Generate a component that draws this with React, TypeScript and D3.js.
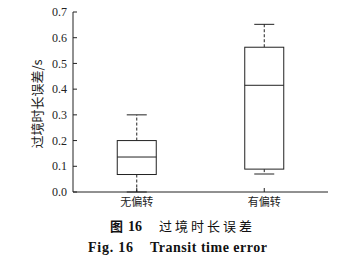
import React from "react";
import * as d3 from "d3";

const categories = ["无偏转", "有偏转"];
const whiskerLow = [0.0, 0.07];
const q1 = [0.068, 0.089];
const median = [0.136, 0.415];
const q3 = [0.2, 0.563];
const whiskerHigh = [0.3, 0.652];
const yTicks = [0, 0.1, 0.2, 0.3, 0.4, 0.5, 0.6, 0.7];

const W = 344;
const H = 275;
const left = 73;
const right = 328;
const top = 12;
const bottom = 192;

export default function App() {
  const x = d3.scalePoint<string>().domain(categories).range([left, right]).padding(0.5);
  const y = d3.scaleLinear().domain([0, 0.7]).range([bottom, top]);
  const fmt = d3.format(".1f");
  const boxW = 39;
  const capW = 20;
  const stroke = "#222";
  const serif = "'Liberation Serif', 'Times New Roman', serif";
  const cjk = "'Noto Sans CJK SC', sans-serif";

  return (
    <svg width={W} height={H} style={{ position: "absolute", left: 0, top: 0, background: "#fff" }}>
      <rect x={0} y={0} width={W} height={H} fill="#fff" />
      {/* axes */}
      <line x1={left} x2={left} y1={top} y2={bottom} stroke={stroke} strokeWidth={1} />
      <line x1={left} x2={right} y1={bottom} y2={bottom} stroke={stroke} strokeWidth={1} />
      {yTicks.map((t) => (
        <g key={t}>
          <line x1={left} x2={left + 4} y1={y(t)} y2={y(t)} stroke={stroke} />
          <text x={left - 6} y={y(t)} dy="0.35em" textAnchor="end" fontFamily={serif} fontSize={12} fill="#222">
            {fmt(t)}
          </text>
        </g>
      ))}
      {categories.map((c) => (
        <g key={c}>
          <line x1={x(c)!} x2={x(c)!} y1={bottom} y2={bottom - 4} stroke={stroke} />
          <text x={x(c)!} y={bottom + 14} textAnchor="middle" fontFamily={cjk} fontSize={11} fill="#222">
            {c}
          </text>
        </g>
      ))}
      {/* boxes */}
      {categories.map((c, i) => {
        const cx = x(c)!;
        return (
          <g key={"b" + c} stroke={stroke} fill="none" strokeWidth={1}>
            <line x1={cx} x2={cx} y1={y(q3[i])} y2={y(whiskerHigh[i])} strokeDasharray="3,2" />
            <line x1={cx} x2={cx} y1={y(q1[i])} y2={y(whiskerLow[i])} strokeDasharray="3,2" />
            <line x1={cx - capW / 2} x2={cx + capW / 2} y1={y(whiskerHigh[i])} y2={y(whiskerHigh[i])} />
            <line x1={cx - capW / 2} x2={cx + capW / 2} y1={y(whiskerLow[i])} y2={y(whiskerLow[i])} />
            <rect x={cx - boxW / 2} y={y(q3[i])} width={boxW} height={y(q1[i]) - y(q3[i])} fill="#fff" />
            <line x1={cx - boxW / 2} x2={cx + boxW / 2} y1={y(median[i])} y2={y(median[i])} />
          </g>
        );
      })}
      {/* y title */}
      <text
        transform={`translate(37,104) rotate(-90)`}
        textAnchor="middle"
        dy="0.35em"
        fontFamily={cjk}
        fontSize={13}
        fill="#222"
      >
        过境时长误差/s
      </text>
      {/* captions */}
      <text x={110} y={231} fontSize={13} fill="#111">
        <tspan fontFamily={cjk} fontWeight="bold">图</tspan>
        <tspan fontFamily={serif} fontWeight="bold" fontSize={14} dx={5}>16</tspan>
      </text>
      <text x={159} y={231} fontSize={13} fontFamily={cjk} fill="#111" textLength={93} lengthAdjust="spacing">
        过境时长误差
      </text>
      <text x={88} y={252} fontSize={14} fontFamily={serif} fontWeight="bold" fill="#111" textLength={45} lengthAdjust="spacing">
        Fig. 16
      </text>
      <text x={150} y={252} fontSize={14} fontFamily={serif} fontWeight="bold" fill="#111" textLength={117} lengthAdjust="spacing">
        Transit time error
      </text>
    </svg>
  );
}
